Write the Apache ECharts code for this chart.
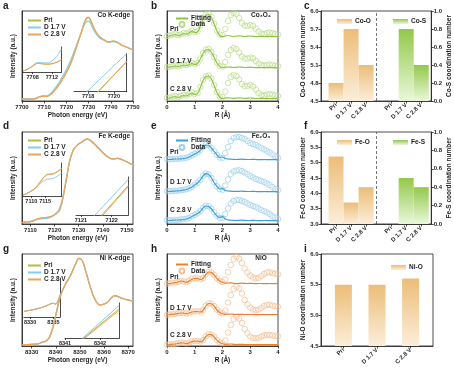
<!DOCTYPE html>
<html><head><meta charset="utf-8">
<script src="https://cdn.jsdelivr.net/npm/echarts@6/dist/echarts.min.js"></script>
<style>html,body{margin:0;padding:0;background:#fff}#c{width:454px;height:370px}</style>
</head><body><div id="c"></div>
<script>
// ================= DATA =================
const curveNames = ['Pri', 'D 1.7 V', 'C 2.8 V'];
const barCats = ['Pri', 'D 1.7 V', 'C 2.8 V'];

// --- Co K-edge XANES (a) ---
const coTicks = [7700, 7710, 7720, 7730, 7740, 7750];
const coE   = [7700,7703,7706,7708,7709.5,7711,7713,7715,7717,7719,7721,7723,7725,7727,7728,7729,7730,7731,7733,7735,7737,7739,7741,7743,7745,7747,7750];
const coPri = [0.03,0.03,0.04,0.07,0.08,0.075,0.11,0.19,0.29,0.41,0.55,0.73,0.95,1.18,1.30,1.37,1.39,1.33,1.17,1.07,1.02,0.98,1.00,0.98,0.93,0.90,0.85];
const coD   = [0.03,0.03,0.04,0.075,0.085,0.085,0.13,0.22,0.33,0.46,0.60,0.78,0.98,1.17,1.26,1.32,1.33,1.28,1.14,1.05,1.01,0.98,0.99,0.97,0.93,0.90,0.85];
const coC   = [0.03,0.03,0.04,0.07,0.08,0.075,0.11,0.19,0.29,0.41,0.55,0.73,0.95,1.18,1.30,1.38,1.40,1.34,1.17,1.07,1.02,0.98,1.00,0.98,0.93,0.90,0.85];
const coIn1Ticks = [7708, 7712];
const coIn1E   = [7706,7707,7708,7709,7710,7711,7712,7713,7714];
const coIn1Pri = [1,3,6,9,8.5,8.2,8.7,10.3,13];
const coIn1D   = [1,3,6.5,10,9.5,9.5,11.5,16,24];
const coIn1C   = [1,3,6,9,8.5,8,8.5,10,12.5];
const coIn2Ticks = [7718, 7720];
const coIn2E   = [7716.9,7717.9,7718.8,7720,7721];
const coIn2Pri = [-25,-11.6,0.5,16.8,30.5];
const coIn2D   = [-12.3,0,11,25.8,38];
const coIn2C   = [-25.8,-12.2,0,16.4,30];

// --- Fe K-edge XANES (d) ---
const feTicks = [7110, 7120, 7130, 7140, 7150];
const feE   = [7106,7108,7110,7112,7113.5,7115,7117,7119,7120,7121,7122,7123,7124,7125,7126,7127,7128,7129.5,7131,7133.5,7135,7136.7,7138.7,7141.5,7144,7146.3,7149,7153];
const fePri = [0.02,0.03,0.04,0.065,0.09,0.10,0.11,0.13,0.15,0.18,0.22,0.34,0.53,0.75,0.98,1.13,1.22,1.29,1.33,1.39,1.36,1.30,1.22,1.11,1.06,1.07,1.03,0.95];
const feD   = [0.02,0.03,0.04,0.06,0.08,0.085,0.09,0.12,0.15,0.19,0.25,0.38,0.56,0.77,0.99,1.13,1.22,1.29,1.33,1.38,1.35,1.29,1.21,1.11,1.06,1.07,1.03,0.95];
const feC   = [0.02,0.03,0.04,0.065,0.09,0.10,0.11,0.13,0.15,0.18,0.22,0.34,0.53,0.75,0.98,1.13,1.22,1.29,1.33,1.39,1.36,1.30,1.22,1.11,1.06,1.07,1.03,0.95];
const feIn1Ticks = [7110, 7115];
const feIn1E   = [7107,7108,7110.7,7112.5,7113.8,7115.6,7118,7121];
const feIn1Pri = [1,2.2,6.3,11.5,16.5,21.5,22.5,27.5];
const feIn1D   = [1,2,6,10.5,14,16.7,17.7,23];
const feIn1C   = [1,2,6,11,16,21,22,27];
const feIn2Ticks = [7121, 7122];
const feIn2E   = [7121.2,7121.46,7121.72,7122.1,7122.54];
const feIn2Pri = [-16.5,-7.5,1.4,14.4,29.5];
const feIn2D   = [-8.6,0,8.6,21.1,35.7];
const feIn2C   = [-17.9,-9,0,13.1,28.3];

// --- Ni K-edge XANES (g) ---
const niTicks = [8330, 8340, 8350, 8360, 8370];
const niE   = [8326,8330,8333,8334.5,8336,8337.5,8339,8340.5,8342,8344,8346,8348,8349.6,8351,8352.5,8354,8356,8358.3,8361,8364.5,8368,8372];
const niPri = [0.02,0.025,0.04,0.065,0.08,0.15,0.32,0.58,0.82,1.00,1.14,1.32,1.43,1.39,1.21,1.0,0.78,0.67,0.70,0.82,0.77,0.73];
const niD   = [0.02,0.025,0.04,0.065,0.08,0.16,0.34,0.60,0.83,1.01,1.14,1.32,1.43,1.39,1.21,1.0,0.78,0.67,0.70,0.82,0.77,0.73];
const niC   = [0.02,0.025,0.04,0.065,0.08,0.15,0.33,0.59,0.83,1.01,1.14,1.32,1.43,1.39,1.21,1.0,0.78,0.67,0.70,0.82,0.77,0.73];
const niIn1Ticks = [8330, 8335];
const niIn1E   = [8328.7,8330,8331.5,8333,8334,8334.8,8335.5,8336.4];
const niIn1Pri = [5.5,6.5,8,10,12,13.2,12.5,20.5];
const niIn1D   = [5.5,6.5,8,10,12,13.4,12.8,22.5];
const niIn1C   = [5.5,6.5,8,10,12,13.4,12.6,21];
const niIn2Ticks = [8341, 8342];
const niIn2E   = [8341.3,8341.51,8341.57,8342.0,8342.55];
const niIn2Pri = [-7,-0.9,0.9,13.4,29.4];
const niIn2D   = [-6.6,0,1.9,15.4,32.7];
const niIn2C   = [-7.6,-1.7,0,12.2,27.7];

// --- EXAFS R-space (b, e, h) ---
const rTicks = [0, 1, 2, 3, 4];
const R = [0,0.1,0.2,0.3,0.4,0.5,0.6,0.7,0.8,0.9,1,1.1,1.2,1.3,1.4,1.5,1.6,1.7,1.8,1.9,2,2.1,2.2,2.3,2.4,2.5,2.6,2.7,2.8,2.9,3,3.1,3.2,3.3,3.4,3.5,3.6,3.7,3.8,3.9,4];
const coPriFit  = [0.05,0.1,0.2,0.25,0.15,0.2,0.35,0.3,0.4,0.6,0.45,0.5,1.1,1.8,2.2,2.25,1.95,1.3,0.6,0.15,0.05,0.1,0.15,0.1,0.05,0.1,0.12,0.08,0.05,0.08,0.1,0.07,0.04,0.05,0.06,0.04,0.03,0.05,0.04,0.03,0.03];
const coPriData = [0.1,0.15,0.25,0.3,0.2,0.25,0.4,0.35,0.45,0.65,0.5,0.55,1.15,1.85,2.25,2.3,2.0,1.35,0.65,0.25,0.2,0.8,1.6,2.2,2.4,2.3,1.9,1.4,1.15,1.1,1.2,1.1,0.85,0.55,0.35,0.3,0.4,0.45,0.4,0.3,0.25];
const coDFit    = [0.05,0.1,0.15,0.2,0.15,0.2,0.3,0.25,0.35,0.45,0.35,0.45,0.9,1.45,1.8,1.85,1.55,1.05,0.5,0.15,0.05,0.08,0.1,0.08,0.05,0.07,0.1,0.08,0.05,0.06,0.08,0.06,0.04,0.04,0.05,0.04,0.03,0.04,0.03,0.03,0.02];
const coDData   = [0.1,0.12,0.2,0.25,0.2,0.25,0.35,0.3,0.4,0.5,0.4,0.5,0.95,1.5,1.85,1.9,1.6,1.1,0.55,0.2,0.15,0.6,1.3,1.8,2.0,1.9,1.55,1.15,0.95,0.95,1.05,0.95,0.7,0.45,0.3,0.25,0.3,0.35,0.3,0.22,0.18];
const coCFit    = [0.05,0.1,0.2,0.25,0.15,0.25,0.35,0.3,0.45,0.6,0.45,0.55,1.15,1.85,2.25,2.3,2.0,1.35,0.65,0.2,0.05,0.1,0.12,0.1,0.06,0.1,0.12,0.1,0.06,0.08,0.1,0.08,0.05,0.05,0.06,0.05,0.04,0.05,0.04,0.03,0.03];
const coCData   = [0.1,0.15,0.25,0.3,0.2,0.3,0.4,0.35,0.5,0.65,0.5,0.6,1.2,1.9,2.3,2.35,2.05,1.4,0.7,0.25,0.2,0.75,1.6,2.2,2.4,2.3,1.95,1.5,1.3,1.3,1.4,1.25,0.95,0.6,0.4,0.35,0.45,0.5,0.45,0.35,0.3];

const fePriFit  = [0.05,0.05,0.08,0.1,0.1,0.12,0.15,0.2,0.3,0.45,0.6,0.75,0.95,1.3,1.5,1.45,1.2,0.85,0.5,0.25,0.3,0.15,0.1,0.08,0.06,0.05,0.07,0.08,0.06,0.05,0.05,0.06,0.05,0.04,0.04,0.05,0.04,0.03,0.03,0.03,0.02];
const fePriData = [0.08,0.08,0.1,0.12,0.12,0.15,0.18,0.22,0.32,0.48,0.62,0.78,1.0,1.32,1.52,1.47,1.22,0.88,0.52,0.25,0.2,0.7,1.3,1.9,2.2,2.3,2.3,2.2,2.1,1.9,1.7,1.6,1.5,1.35,1.2,1.05,0.9,0.75,0.55,0.35,0.2];
const feDFit    = [0.05,0.05,0.08,0.1,0.12,0.15,0.2,0.25,0.35,0.5,0.7,0.9,1.2,1.6,1.83,1.75,1.4,0.95,0.55,0.3,0.33,0.15,0.1,0.08,0.06,0.06,0.07,0.08,0.06,0.05,0.05,0.06,0.05,0.04,0.04,0.05,0.04,0.03,0.03,0.03,0.02];
const feDData   = [0.08,0.08,0.1,0.12,0.14,0.17,0.22,0.28,0.38,0.53,0.72,0.93,1.22,1.62,1.85,1.78,1.42,0.98,0.57,0.28,0.22,0.65,1.25,1.8,2.05,2.15,2.17,2.1,1.95,1.8,1.6,1.45,1.3,1.2,1.1,1.0,0.85,0.7,0.5,0.3,0.17];
const feCFit    = [0.05,0.05,0.08,0.1,0.1,0.12,0.15,0.2,0.3,0.45,0.6,0.75,0.95,1.3,1.5,1.45,1.2,0.85,0.5,0.35,0.43,0.2,0.1,0.08,0.06,0.05,0.07,0.08,0.06,0.05,0.05,0.06,0.05,0.04,0.04,0.05,0.04,0.03,0.03,0.03,0.02];
const feCData   = [0.08,0.08,0.1,0.12,0.12,0.15,0.18,0.22,0.32,0.48,0.62,0.78,1.0,1.32,1.52,1.47,1.22,0.88,0.52,0.3,0.3,0.7,1.25,1.75,2.0,2.1,2.1,2.0,1.9,1.75,1.6,1.5,1.4,1.25,1.1,1.0,0.85,0.7,0.5,0.35,0.2];

const niPriFit  = [0.0,0.05,0.1,0.13,0.2,0.3,0.25,0.17,0.3,0.47,0.55,0.57,0.45,0.55,0.95,1.2,1.15,0.9,0.55,0.3,0.15,0.08,0.1,0.12,0.08,0.05,0.06,0.08,0.06,0.05,0.06,0.05,0.04,0.05,0.05,0.04,0.04,0.05,0.04,0.03,0.03];
const niPriData = [0.03,0.08,0.12,0.15,0.22,0.32,0.27,0.2,0.33,0.5,0.57,0.6,0.48,0.58,0.98,1.22,1.17,0.92,0.57,0.32,0.2,0.45,1.2,1.9,2.5,2.72,2.55,2.1,1.55,1.15,0.85,0.65,0.57,0.6,0.8,1.0,1.15,1.18,1.1,1.03,0.97];
const niDFit    = [0.0,0.04,0.08,0.1,0.15,0.2,0.18,0.12,0.2,0.3,0.33,0.35,0.3,0.45,0.9,1.15,1.12,0.88,0.5,0.25,0.12,0.07,0.08,0.1,0.07,0.05,0.06,0.07,0.05,0.05,0.05,0.05,0.04,0.04,0.05,0.04,0.04,0.04,0.04,0.03,0.03];
const niDData   = [0.03,0.06,0.1,0.12,0.17,0.22,0.2,0.15,0.23,0.33,0.35,0.38,0.33,0.48,0.93,1.17,1.14,0.9,0.52,0.28,0.18,0.45,1.25,2.0,2.6,2.83,2.65,2.15,1.5,1.05,0.75,0.55,0.5,0.55,0.72,0.9,1.0,1.02,0.95,0.88,0.82];
const niCFit    = [0.0,0.04,0.08,0.1,0.15,0.22,0.2,0.14,0.22,0.33,0.38,0.4,0.32,0.45,0.85,1.05,1.03,0.8,0.48,0.25,0.12,0.07,0.08,0.1,0.07,0.05,0.06,0.07,0.05,0.05,0.05,0.05,0.04,0.04,0.05,0.04,0.04,0.04,0.04,0.03,0.03];
const niCData   = [0.03,0.06,0.1,0.12,0.17,0.24,0.22,0.17,0.25,0.36,0.4,0.43,0.35,0.48,0.88,1.08,1.05,0.83,0.5,0.28,0.18,0.45,1.25,2.0,2.6,2.83,2.65,2.2,1.6,1.15,0.85,0.7,0.67,0.7,0.85,0.97,1.0,1.0,0.95,0.9,0.85];

// --- coordination numbers (c, f, i) ---
const coO = [4.8, 5.7, 5.1];
const coS = [0, 0.8, 0.4];
const feO = [5.2, 3.7, 4.2];
const feS = [0, 0.5, 0.4];
const niO = [5.5, 5.5, 5.6];

// ================= STYLE / LAYOUT =================
const FF = '"Liberation Sans", Arial, Helvetica, sans-serif';
const INK = '#1e1e1e';
const curveColors = ['#B4BC44', '#86CDEB', '#EFA45E'];

const option = {animation: false, backgroundColor: '#fff', textStyle: {fontFamily: FF},
  grid: [], xAxis: [], yAxis: [], series: [], legend: [], graphic: []};

const pairs = (xs, ys, off) => xs.map((x, i) => [x, ys[i] + (off || 0)]);
const stripFmt = n => n.split('|')[1];
const nameStyle = {fontSize: 6.5, fontWeight: 'bold', color: INK, fontFamily: FF};
const legendText = {fontSize: 6.5, fontWeight: 'bold', color: INK, fontFamily: FF, lineHeight: 6, padding: [0, 0, 0, -2]};
const lineAx = {show: true, onZero: false, lineStyle: {color: INK, width: 0.8}};

function addGrid(l, t, w, h, box) {
  option.grid.push({left: l, top: t, width: w, height: h, show: !!box, borderColor: INK, borderWidth: 0.8, backgroundColor: 'transparent'});
  return option.grid.length - 1;
}
function addX(g, min, max, ticks, o) {
  o = o || {};
  option.xAxis.push({type: 'value', gridIndex: g, min: min, max: max,
    name: o.name || '', nameLocation: 'middle', nameGap: o.nameGap || 11, nameTextStyle: nameStyle,
    axisLine: lineAx,
    axisTick: {show: true, customValues: ticks, length: o.tl || 2.5, lineStyle: {color: INK, width: 0.8}},
    axisLabel: {customValues: ticks, fontSize: o.fs || 6, fontWeight: 'bold', color: INK, margin: o.margin || 3, fontFamily: FF, formatter: v => String(v)},
    splitLine: {show: false}});
  return option.xAxis.length - 1;
}
function addY(g, min, max, o) {
  o = o || {};
  option.yAxis.push({type: 'value', gridIndex: g, min: min, max: max, position: o.position || 'left',
    name: o.name || '', nameLocation: 'middle', nameGap: o.nameGap || 5, nameTextStyle: nameStyle,
    axisLine: {show: o.line !== false, onZero: false, lineStyle: {color: INK, width: 0.8}},
    axisTick: {show: false}, axisLabel: {show: false}, splitLine: {show: false}});
  return option.yAxis.length - 1;
}
function txt(x, y, s, o) {
  o = o || {};
  option.graphic.push({type: 'text', x: x, y: y, silent: true, z: 100,
    style: {text: s, fill: INK, fontSize: o.size || 6.5, fontWeight: o.weight || 'bold', fontFamily: FF,
      align: o.align || 'left', verticalAlign: 'middle'}});
}

// ---------- XANES panels ----------
function xanes(tag, rect, xr, ticks, E, vals, insets, edgeLabel, legendTop) {
  const g = addGrid(rect[0], rect[1], rect[2], rect[3], true);
  const xi = addX(g, xr[0], xr[1], ticks, {name: 'Photon energy (eV)', nameGap: 11});
  const yi = addY(g, 0, 1.5, {name: 'Intensity (a.u.)', nameGap: 5});
  vals.forEach((v, k) => option.series.push({type: 'line', name: tag + '|' + curveNames[k], xAxisIndex: xi, yAxisIndex: yi,
    data: pairs(E, v), smooth: 0.35, symbol: 'none', lineStyle: {color: curveColors[k], width: 1.2}, itemStyle: {color: curveColors[k]}, z: 2 + k}));
  insets.forEach(ins => {
    const gi = addGrid(ins.rect[0], ins.rect[1], ins.rect[2], ins.rect[3], false);
    const xii = addX(gi, ins.xr[0], ins.xr[1], ins.ticks, {fs: 5.5, margin: 2, tl: 2});
    const yii = addY(gi, 0, ins.ymax, {position: 'right'});
    ins.vals.forEach((v, k) => option.series.push({type: 'line', name: tag + 'in|' + curveNames[k], xAxisIndex: xii, yAxisIndex: yii,
      data: pairs(ins.E, v), smooth: ins.smooth ? 0.3 : false, symbol: 'none', clip: true,
      lineStyle: {color: curveColors[k], width: 1}, z: 2 + k}));
  });
  option.legend.push({orient: 'vertical', left: 23, top: legendTop, itemWidth: 13, itemHeight: 2, itemGap: 0, icon: 'rect',
    data: curveNames.map(n => tag + '|' + n), formatter: stripFmt, selectedMode: false, textStyle: legendText});
  txt(rect[0] + rect[2] - 3, rect[1] + 4.5, edgeLabel, {align: 'right'});
}

xanes('a', [22, 11, 111, 90], [7700, 7750], coTicks, coE, [coPri, coD, coC], [
  {rect: [23, 47, 38.5, 25], xr: [7706, 7714], ticks: coIn1Ticks, ymax: 26, E: coIn1E, vals: [coIn1Pri, coIn1D, coIn1C], smooth: true},
  {rect: [74, 53.5, 52.7, 38.2], xr: [7716.9, 7721], ticks: coIn2Ticks, ymax: 38.2, E: coIn2E, vals: [coIn2Pri, coIn2D, coIn2C]}
], 'Co K-edge', 12);

xanes('d', [22, 132, 111, 92], [7106.5, 7152.5], feTicks, feE, [fePri, feD, feC], [
  {rect: [23, 163, 38.7, 33], xr: [7107, 7121], ticks: feIn1Ticks, ymax: 33, E: feIn1E, vals: [feIn1Pri, feIn1D, feIn1C], smooth: true},
  {rect: [76, 177, 52.3, 38], xr: [7120.84, 7122.54], ticks: feIn2Ticks, ymax: 38, E: feIn2E, vals: [feIn2Pri, feIn2D, feIn2C]}
], 'Fe K-edge', 132);

xanes('g', [22, 254, 111, 92], [8326, 8372], niTicks, niE, [niPri, niD, niC], [
  {rect: [24, 278, 36, 39], xr: [8328.7, 8336.4], ticks: niIn1Ticks, ymax: 38, E: niIn1E, vals: [niIn1Pri, niIn1D, niIn1C], smooth: true},
  {rect: [65, 303, 54.3, 35], xr: [8341.0, 8342.55], ticks: niIn2Ticks, ymax: 35, E: niIn2E, vals: [niIn2Pri, niIn2D, niIn2C]}
], 'Ni K-edge', 257);

// ---------- EXAFS panels ----------
function exafs(tag, rect, ymax, spectra, offsets, labelYs, fitColor, dataColor, title, legendTops) {
  const g = addGrid(rect[0], rect[1], rect[2], rect[3], true);
  const xi = addX(g, 0, 4, rTicks, {name: 'R (Å)', nameGap: 11});
  const yi = addY(g, 0, ymax, {name: 'Intensity (a.u.)', nameGap: 5});
  spectra.forEach((s, k) => {
    option.series.push({type: 'scatter', name: tag + '|Data points', xAxisIndex: xi, yAxisIndex: yi, data: pairs(R, s[1], offsets[k]),
      symbol: 'circle', symbolSize: 5.5, itemStyle: {color: 'rgba(255,255,255,0)', borderColor: dataColor, borderWidth: 0.9}, z: 2});
    option.series.push({type: 'line', name: tag + '|Fitting', xAxisIndex: xi, yAxisIndex: yi, data: pairs(R, s[0], offsets[k]),
      smooth: 0.35, symbol: 'none', lineStyle: {color: fitColor, width: 1.2}, itemStyle: {color: fitColor}, z: 3});
    txt(rect[0] + 3, labelYs[k], curveNames[k]);
  });
  // legend-only entry for the hollow "Data" symbol (a line-type series with no data and an invisible line)
  option.series.push({type: 'line', name: tag + '|Data', xAxisIndex: xi, yAxisIndex: yi, data: [],
    symbol: 'emptyCircle', symbolSize: 5, showSymbol: true,
    lineStyle: {width: 0, opacity: 0, color: dataColor}, itemStyle: {color: dataColor, borderWidth: 1}});
  option.legend.push({left: rect[0] + 4, top: legendTops[0], itemWidth: 12, itemHeight: 2, icon: 'rect',
    data: [tag + '|Fitting'], formatter: stripFmt, selectedMode: false, textStyle: legendText});
  option.legend.push({left: rect[0] + 4, top: legendTops[1], itemWidth: 12, itemHeight: 6,
    lineStyle: {width: 0, opacity: 0},
    data: [tag + '|Data'], formatter: stripFmt, selectedMode: false, textStyle: legendText});
  txt(rect[0] + rect[2] - 17, rect[1] + 4, title, {align: 'center'});
}

exafs('b', [167, 11, 111, 90], 9, [[coPriFit, coPriData], [coDFit, coDData], [coCFit, coCData]], [6.4, 3.3, 0.2],
  [29, 61, 89], '#8DC43E', '#B9DB8A', 'Co₃O₄', [10, 16]);
exafs('e', [167, 132, 111, 92], 9.2, [[fePriFit, fePriData], [feDFit, feDData], [feCFit, feCData]], [6.4, 3.2, 0.3],
  [152, 182, 210], '#3A9ED8', '#9CCFEB', 'Fe₂O₃', [132, 139]);
exafs('h', [167, 254, 111, 92], 9.2, [[niPriFit, niPriData], [niDFit, niDData], [niCFit, niCData]], [6.2, 3.1, 0.1],
  [277, 308, 335], '#E8822F', '#F4BF92', 'NiO', [256, 262.5]);

// ---------- coordination-number bar panels ----------
const orangeGrad = {type: 'linear', x: 0, y: 0, x2: 0, y2: 1, colorStops: [{offset: 0, color: '#ECBD78'}, {offset: 1, color: '#FCEEDA'}]};
const greenGrad  = {type: 'linear', x: 0, y: 0, x2: 0, y2: 1, colorStops: [{offset: 0, color: '#93C84B'}, {offset: 1, color: '#EAF8DA'}]};

function barPanel(tag, rect, nSlots, groups, barW, legendTop) {
  const g = addGrid(rect[0], rect[1], rect[2], rect[3], true);
  const slots = new Array(nSlots).fill('');
  groups.forEach(gr => gr.slots.forEach((s, i) => { slots[s] = barCats[i]; }));
  option.xAxis.push({type: 'category', gridIndex: g, data: slots, boundaryGap: false,
    axisLine: lineAx,
    axisTick: {show: true, interval: (i, v) => v !== '', length: 2.5, lineStyle: {color: INK, width: 0.8}},
    axisLabel: {interval: 0, rotate: 45, fontSize: 6, fontWeight: 'bold', color: INK, margin: 3, fontFamily: FF},
    splitLine: {show: false}});
  const xi = option.xAxis.length - 1;
  groups.forEach((gr, gi) => {
    option.yAxis.push({type: 'value', gridIndex: g, min: gr.min, max: gr.max, interval: gr.interval, position: gr.position,
      name: gr.title, nameLocation: 'middle', nameGap: gr.nameGap, nameTextStyle: nameStyle,
      axisLine: lineAx, axisTick: {show: true, length: 2.5, lineStyle: {color: INK, width: 0.8}},
      axisLabel: {fontSize: 6, fontWeight: 'bold', color: INK, margin: 2.5, fontFamily: FF, formatter: v => v.toFixed(1)},
      splitLine: {show: false}});
    const yi = option.yAxis.length - 1;
    const data = slots.map(() => null);
    gr.slots.forEach((s, i) => { data[s] = gr.values[i]; });
    const ser = {type: 'bar', name: tag + '|' + gr.name, xAxisIndex: xi, yAxisIndex: yi, data: data,
      barWidth: barW, barGap: '-100%', itemStyle: {color: gr.grad}, z: 2};
    if (gi === 0 && gr.dash != null) {
      ser.markLine = {silent: true, symbol: 'none', label: {show: false},
        lineStyle: {type: [3, 2], color: '#555', width: 0.8}, data: [{xAxis: gr.dash}]};
    }
    option.series.push(ser);
    option.legend.push({left: gr.legendLeft, top: legendTop, itemWidth: 15, itemHeight: 5, icon: 'rect',
      data: [tag + '|' + gr.name], formatter: stripFmt, selectedMode: false,
      textStyle: {fontSize: 6.5, fontWeight: 'bold', color: INK, fontFamily: FF, padding: [0, 0, 0, -2]}});
  });
}

barPanel('c', [321, 11, 112, 90], 23, [
  {name: 'Co-O', values: coO, slots: [3, 6, 9], min: 4.5, max: 6.0, interval: 0.3, position: 'left', title: 'Co-O coordination number', nameGap: 12, grad: orangeGrad, legendLeft: 332, dash: 11},
  {name: 'Co-S', values: coS, slots: [14, 17, 20], min: 0, max: 1.0, interval: 0.2, position: 'right', title: 'Co-S coordination number', nameGap: 13, grad: greenGrad, legendLeft: 388}
], 15, 13);

barPanel('f', [321, 132, 112, 92], 23, [
  {name: 'Fe-O', values: feO, slots: [3, 6, 9], min: 3.0, max: 6.0, interval: 0.5, position: 'left', title: 'Fe-O coordination number', nameGap: 12, grad: orangeGrad, legendLeft: 332, dash: 11},
  {name: 'Fe-S', values: feS, slots: [14, 17, 20], min: 0, max: 1.0, interval: 0.2, position: 'right', title: 'Fe-S coordination number', nameGap: 13, grad: greenGrad, legendLeft: 388}
], 15, 134);

barPanel('i', [321, 254, 112, 92], 11, [
  {name: 'Ni-O', values: niO, slots: [2, 5, 8], min: 4.5, max: 6.0, interval: 0.5, position: 'left', title: 'Ni-O coordination number', nameGap: 12, grad: orangeGrad, legendLeft: 386}
], 17, 259);

// ---------- panel letters ----------
[['a', 3, 6], ['b', 151, 6], ['c', 304, 6], ['d', 3, 126], ['e', 151, 126], ['f', 304, 126], ['g', 3, 249], ['h', 151, 249], ['i', 304, 249]]
  .forEach(p => txt(p[1], p[2], p[0], {size: 10}));

const chart = echarts.init(document.getElementById('c'), null, {renderer: 'canvas'});
chart.setOption(option);
</script>
</body></html>
